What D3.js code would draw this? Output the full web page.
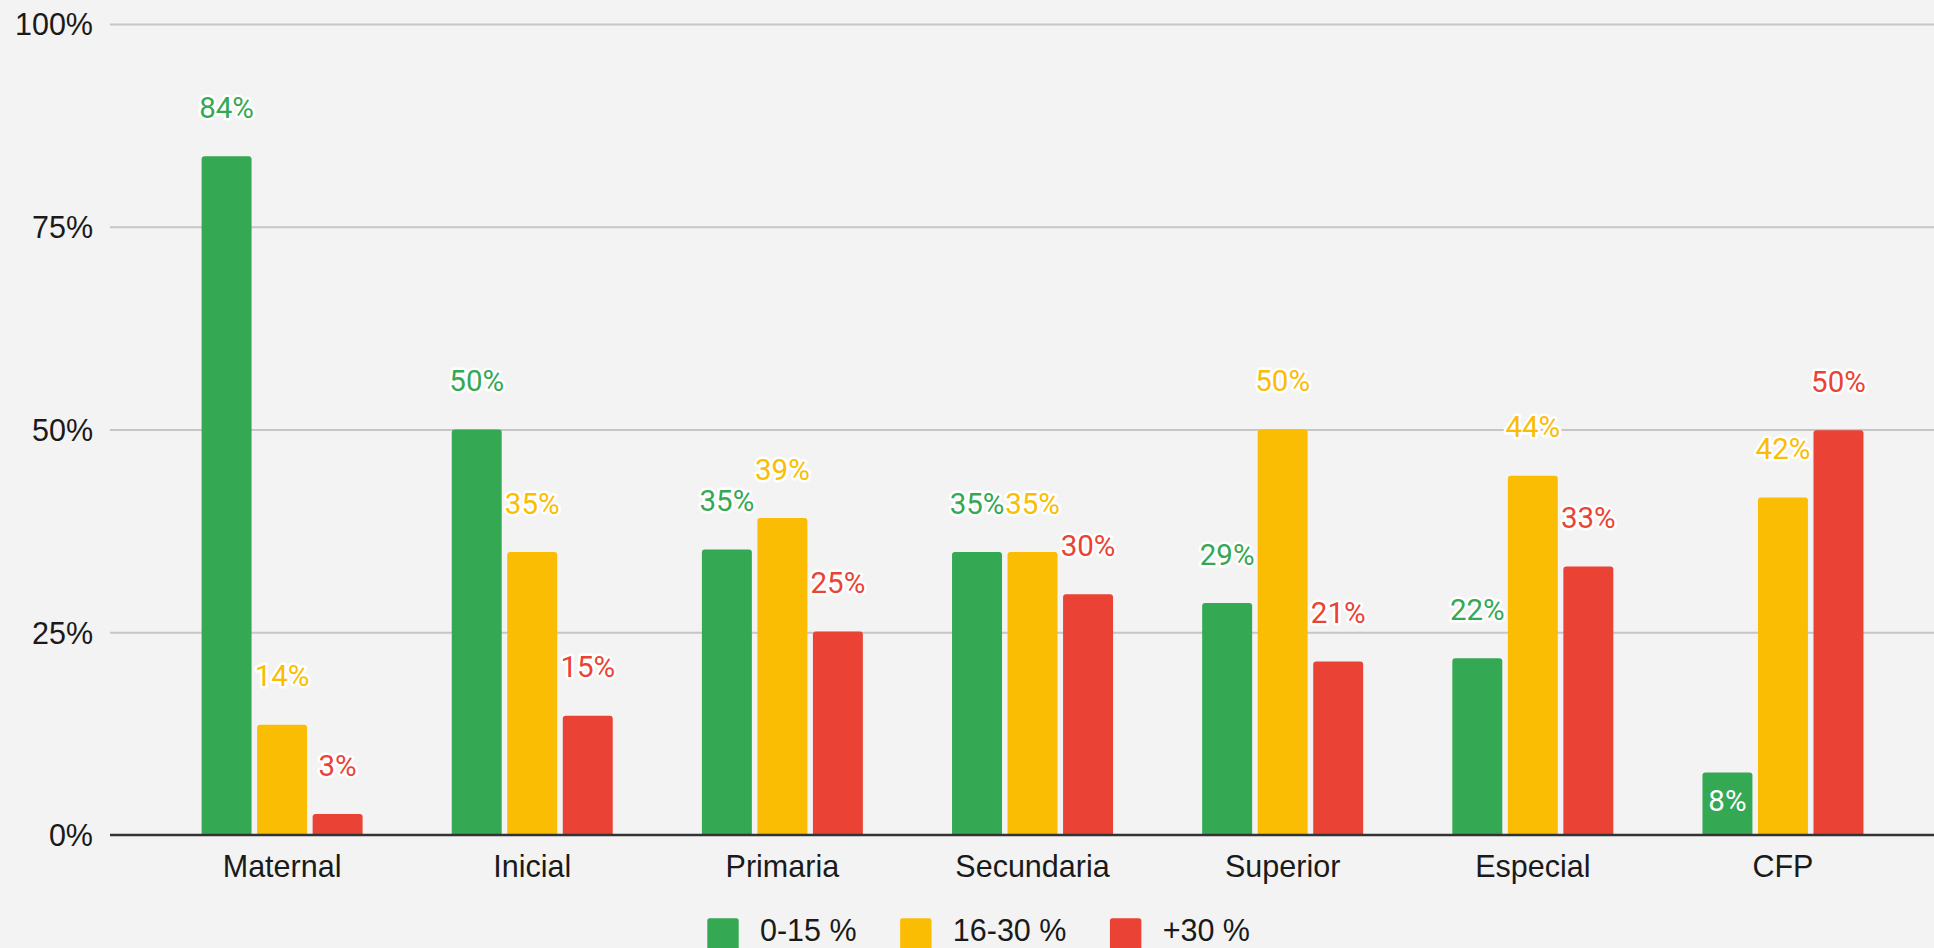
<!DOCTYPE html>
<html>
<head>
<meta charset="utf-8">
<script src="https://cdn.jsdelivr.net/npm/d3@7/dist/d3.min.js"></script>
<style>
  html, body { margin: 0; padding: 0; background: #f3f3f3; overflow: hidden; }
  svg { display: block; }
</style>
</head>
<body>
<svg id="chart" width="1934" height="948"></svg>
<script>
const categories = ["Maternal", "Inicial", "Primaria", "Secundaria", "Superior", "Especial", "CFP"];
const seriesNames = ["0-15 %", "16-30 %", "+30 %"];
const green  = [0.837, 0.500, 0.352, 0.349, 0.286, 0.218, 0.077];
const yellow = [0.136, 0.349, 0.391, 0.349, 0.500, 0.443, 0.416];
const red    = [0.026, 0.147, 0.251, 0.297, 0.214, 0.331, 0.499];
const yTicks = [0, 0.25, 0.5, 0.75, 1];
const insideLabels = [["CFP", "0-15 %"]];

const seriesValues = [green, yellow, red];
const colors = ["#34a853", "#fbbc04", "#ea4335"];
const W = 1934, H = 948;
const left = 110, baseY = 835, topY = 24;

const svg = d3.select("#chart");
svg.append("rect").attr("width", W).attr("height", H).attr("fill", "#f3f3f3");

const x0 = d3.scaleBand().domain(categories).range([157, 1908]).padding(0);
const x1 = d3.scaleBand().domain(seriesNames).range([44.6, 205.6]).paddingInner(0.1).paddingOuter(0);
const y = d3.scaleLinear().domain([0, 1]).range([baseY, topY]);
const color = d3.scaleOrdinal().domain(seriesNames).range(colors);
const pct = d3.format(".0%");

// gridlines
const grid = svg.append("g").attr("transform", `translate(${left},0)`)
  .call(d3.axisLeft(y).tickValues(yTicks.filter(d => d > 0)).tickSize(-(W - left + 10)).tickFormat(""));
grid.select(".domain").remove();
grid.selectAll("line").attr("stroke", "#c6c6c6").attr("stroke-width", 2);

// y axis labels
const yAxis = svg.append("g").attr("transform", `translate(${left},0)`)
  .call(d3.axisLeft(y).tickValues(yTicks).tickFormat(pct).tickSize(0).tickPadding(17));
yAxis.select(".domain").remove();
yAxis.selectAll("text")
  .attr("font-family", "'Liberation Sans', Arial, sans-serif")
  .attr("font-size", 30.5).attr("fill", "#1a1a1a").attr("dy", "0.36em");

// data
const rows = [];
categories.forEach((c, i) => {
  seriesNames.forEach((s, j) => rows.push({ cat: c, series: s, value: seriesValues[j][i] }));
});

function barPath(x, w, yTop, yBot, r) {
  r = Math.min(r, (yBot - yTop));
  return `M${x},${yBot}V${yTop + r}Q${x},${yTop} ${x + r},${yTop}H${x + w - r}Q${x + w},${yTop} ${x + w},${yTop + r}V${yBot}Z`;
}

const bars = svg.append("g");
bars.selectAll("path").data(rows).join("path")
  .attr("d", d => barPath(x0(d.cat) + x1(d.series), x1.bandwidth(), y(d.value), y(0), 3))
  .attr("fill", d => color(d.series));

// baseline
svg.append("line").attr("x1", left).attr("x2", W + 10)
  .attr("y1", baseY).attr("y2", baseY)
  .attr("stroke", "#333").attr("stroke-width", 2.5);

// x axis labels
const xAxis = svg.append("g").attr("transform", `translate(0,${baseY})`)
  .call(d3.axisBottom(x0).tickSize(0).tickPadding(20));
xAxis.select(".domain").remove();
xAxis.selectAll("text")
  .attr("font-family", "'Liberation Sans', Arial, sans-serif")
  .attr("font-size", 30.5).attr("fill", "#1a1a1a");

// value labels
const isInside = d => insideLabels.some(p => p[0] === d.cat && p[1] === d.series);
svg.append("g").selectAll("text").data(rows).join("text")
  .attr("x", d => x0(d.cat) + x1(d.series) + x1.bandwidth() / 2)
  .attr("y", d => isInside(d) ? y(d.value) + 28 : y(d.value) - 49)
  .attr("dy", "0.36em")
  .attr("text-anchor", "middle")
  .attr("font-family", "Roboto, 'Noto Sans', sans-serif")
  .attr("font-size", 29.5)
  .attr("fill", d => isInside(d) ? "#ffffff" : color(d.series))
  .attr("stroke", d => isInside(d) ? "none" : "#ffffff")
  .attr("stroke-width", 5)
  .attr("stroke-linejoin", "round")
  .attr("paint-order", "stroke")
  .text(d => pct(d.value));

// legend
const legend = svg.append("g");
let lx = 707.3;
seriesNames.forEach((s, j) => {
  legend.append("rect").attr("x", lx).attr("y", 918.3).attr("width", 31.4).attr("height", 31.4)
    .attr("rx", 2.5).attr("fill", colors[j]);
  const t = legend.append("text").attr("x", lx + 31.4 + 21.3).attr("y", 941)
    .attr("font-family", "'Liberation Sans', Arial, sans-serif")
    .attr("font-size", 30.5).attr("fill", "#1a1a1a").text(s);
  lx = lx + 31.4 + 21.3 + t.node().getComputedTextLength() + 43.5;
});
</script>
</body>
</html>
